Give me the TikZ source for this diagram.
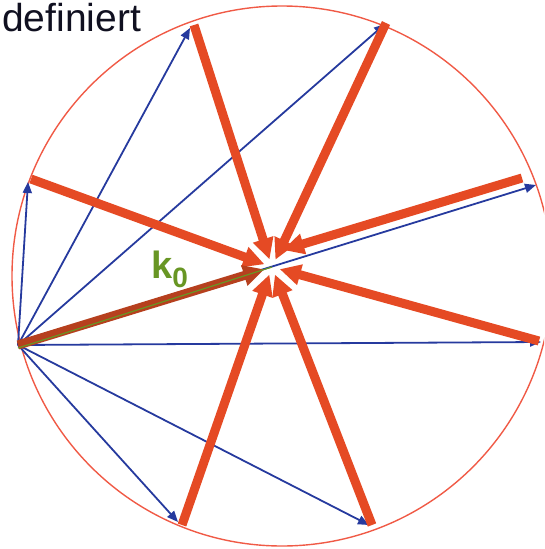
\documentclass[tikz,border=0pt]{standalone}
\usepackage{fontspec}
\setmainfont{Liberation Sans}
\usetikzlibrary{arrows.meta}
\definecolor{kblue}{RGB}{38,58,158}
\definecolor{kred}{RGB}{229,74,36}
\definecolor{kcirc}{RGB}{240,90,70}
\definecolor{kbrown}{RGB}{182,64,30}
\definecolor{kgreen}{RGB}{104,150,36}
\definecolor{ktext}{RGB}{16,16,32}
\begin{document}
\begin{tikzpicture}[x=1pt,y=-1pt,
  bluevec/.style={draw=kblue,line width=1.8pt,-{Triangle[length=11pt,width=9pt]}},
  redvec/.style={draw=kred,line width=9pt,-{Triangle[length=21pt,width=20pt]},shorten >=8pt},
  kvec/.style={draw=kbrown,line width=9pt,-{Triangle[length=21pt,width=20pt]},shorten >=8pt},
  greenline/.style={draw=kgreen,line width=1.2pt}
]
\useasboundingbox (0,0) rectangle (544,549);
\clip (0,0) rectangle (544,549);

% Ewald sphere
\draw[kcirc,line width=1.4pt] (282,276) circle[radius=270pt];

% points
\coordinate (O) at (18,345);
\coordinate (C) at (272,267);
\coordinate (b1) at (28,182);
\coordinate (b2) at (190,28);
\coordinate (b3) at (385,24);
\coordinate (b4) at (536,185);
\coordinate (b5) at (541,342);
\coordinate (b6) at (369,525);
\coordinate (b7) at (178,522);
\coordinate (r1) at (31,179);
\coordinate (r2) at (194,25);
\coordinate (r3) at (386,23);
\coordinate (r4) at (522,178);
\coordinate (r4e) at (283,250);
\coordinate (r5) at (539,341);
\coordinate (r6) at (372,525);
\coordinate (r7) at (182,525);

% blue vectors
\foreach \p in {b1,b2,b3,b4,b5,b6,b7}{
  \draw[bluevec] (O) -- (\p);
}

% red vectors
\draw[redvec] (r1) -- (C);
\draw[redvec] (r2) -- (C);
\draw[redvec] (r3) -- (C);
\draw[redvec,shorten >=0pt] (r4) -- (r4e);
\draw[redvec] (r5) -- (C);
\draw[redvec] (r6) -- (C);
\draw[redvec] (r7) -- (C);

% k0
\draw[kvec] (O) -- (C);
\draw[greenline] ([yshift=-3pt]O) -- (C);

\node[anchor=base west,inner sep=0pt,text=kgreen,font=\bfseries\fontsize{38}{38}\selectfont] (klabel) at (151,278) {k\raisebox{-9pt}{\fontsize{28}{28}\selectfont 0}};

\node[anchor=base west,inner sep=0pt,text height=29pt,text depth=0pt,text=ktext,font=\fontsize{39}{39}\selectfont] (title) at (2,31) {definiert};
\end{tikzpicture}
\end{document}
